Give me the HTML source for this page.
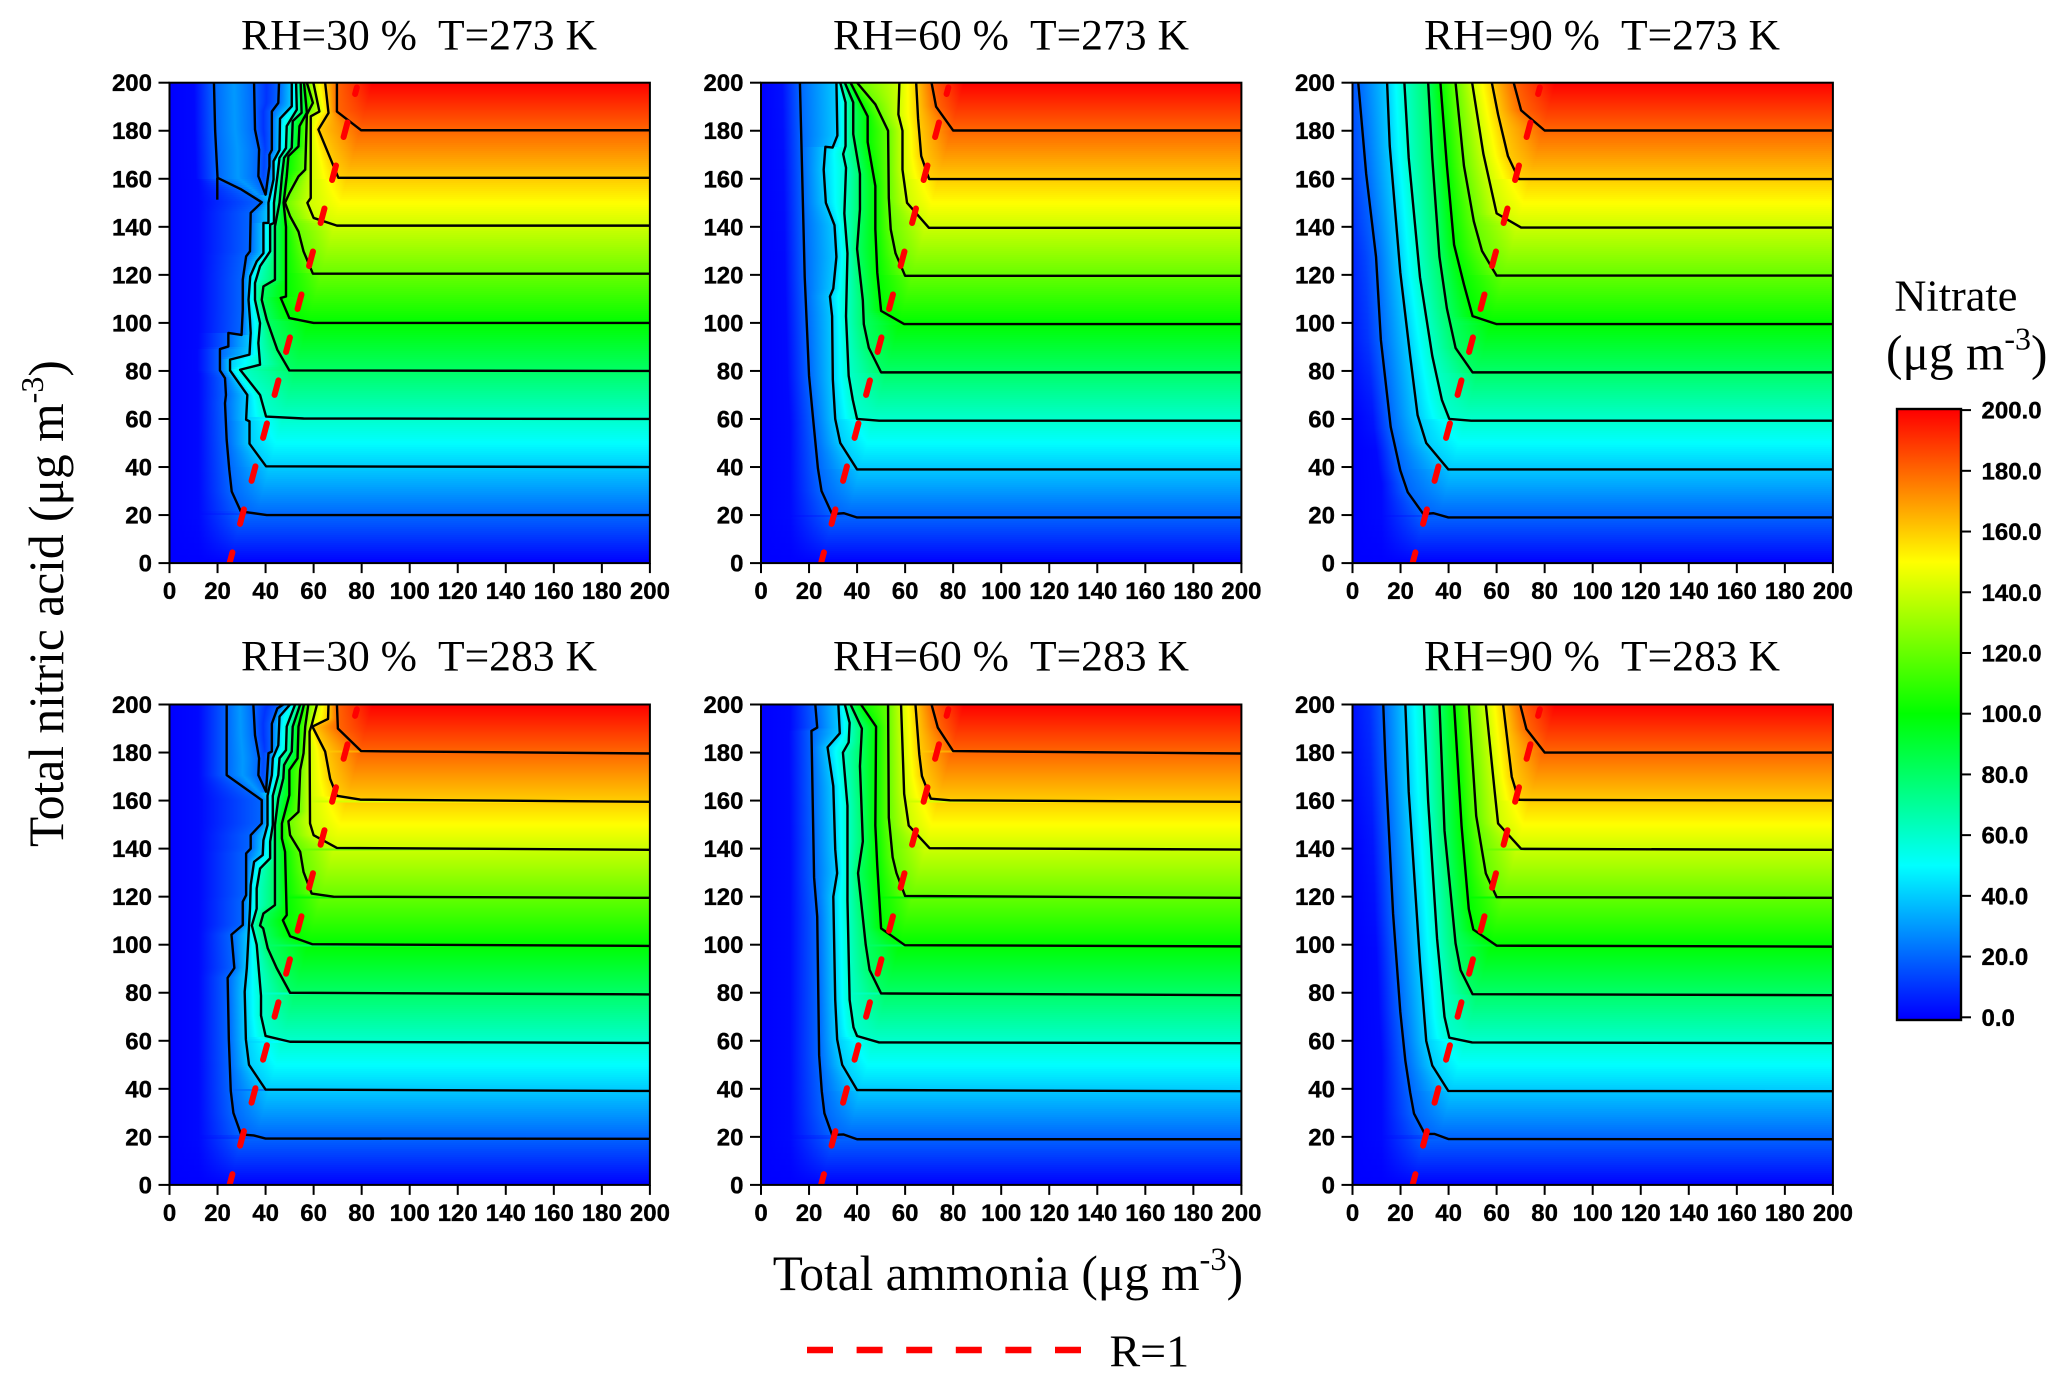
<!DOCTYPE html>
<html lang="en">
<head>
<meta charset="utf-8">
<title>Nitrate contour panels</title>
<style>
html,body{margin:0;padding:0;background:#fff;}
svg{display:block;}
.serif{font-family:"Liberation Serif",serif;fill:#000;white-space:pre;}
.tick{font-family:"Liberation Sans",sans-serif;font-weight:bold;font-size:24px;fill:#000;stroke:#000;stroke-width:0.35px;}
</style>
</head>
<body>
<svg id="chart" xmlns="http://www.w3.org/2000/svg" width="2067" height="1387" viewBox="0 0 2067 1387">
  <defs id="defs"></defs>
  <rect x="0" y="0" width="2067" height="1387" fill="#fff"></rect>
  <g id="panels"></g>

  <text class="serif" x="241" y="49.4" font-size="43.6">RH=30 %  T=273 K</text>
  <text class="serif" x="833" y="49.4" font-size="43.6">RH=60 %  T=273 K</text>
  <text class="serif" x="1424" y="49.4" font-size="43.6">RH=90 %  T=273 K</text>
  <text class="serif" x="241" y="670.6" font-size="43.6">RH=30 %  T=283 K</text>
  <text class="serif" x="833" y="670.6" font-size="43.6">RH=60 %  T=283 K</text>
  <text class="serif" x="1424" y="670.6" font-size="43.6">RH=90 %  T=283 K</text>

  <text class="serif" transform="translate(63 847) rotate(-90)" x="0" y="0" font-size="49.5">Total nitric acid (μg m<tspan dy="-20" font-size="32">-3</tspan><tspan dy="20">)</tspan></text>
  <text class="serif" x="772.7" y="1290" font-size="49.3">Total ammonia (μg m<tspan dy="-20" font-size="32.5">-3</tspan><tspan dy="20">)</tspan></text>

  <line x1="807" y1="1350" x2="1081" y2="1350" stroke="#ff0000" stroke-width="6.5" stroke-dasharray="26 23.6"></line>
  <text class="serif" x="1109.5" y="1366.7" font-size="46">R=1</text>

  <text class="serif" x="1894.4" y="310.4" font-size="44.3">Nitrate</text>
  <text class="serif" x="1886" y="369.7" font-size="49.4">(μg m<tspan dy="-20" font-size="32">-3</tspan><tspan dy="20">)</tspan></text>
  <g id="colorbar"></g>
</svg>

<script>
// ---- chart data (all contour vertices in data units: [ammonia, nitric acid]) ----
const xTickValues = [0, 20, 40, 60, 80, 100, 120, 140, 160, 180, 200];
const yTickValues = [0, 20, 40, 60, 80, 100, 120, 140, 160, 180, 200];
const colorbarTicks = [0, 20, 40, 60, 80, 100, 120, 140, 160, 180, 200];
const colorKnots = [0, 50, 100, 150, 200];
const colorKnotRGB = [[0, 0, 255], [0, 255, 255], [0, 255, 0], [255, 255, 0], [255, 0, 0]];
const rOneLine = [[25, 0], [78, 198]];

const contoursRh30T273 = [
  [20, [[18.5,200],[19,180],[20,160.4],[30,155.5],[38.4,150.2],[33.8,145.8],[33.5,129.8],[31.9,127.7],[30.5,118],[30.5,105.5],[30,95],[24.5,95.8],[24.5,90.2],[21,89.1],[21,80.2],[23.1,77],[23.5,70],[23.1,66.6],[23.8,51.3],[24.9,38.8],[25.9,29.8],[29.7,21.5],[33.5,21],[40.5,20],[200,20]]],
  [20, [[35.2,200],[35.6,180.5],[37.3,172.2],[37,161.1],[40,153.4],[41.6,165.2],[41.6,170],[42.6,172],[42.6,188],[45.3,191.6],[45.6,200]]],
  [40, [[50.9,200],[50.9,190.2],[46,185],[45.8,172],[43.3,167.3],[43.3,159.7],[41.2,150],[41.2,141.6],[39.1,141.6],[39.1,129],[36.3,125.6],[33.6,119.4],[32.9,109.6],[33.5,101.3],[33.8,95.8],[33.3,86.8],[25.2,84.7],[25.2,80.2],[32.4,70],[31.9,59.7],[33.3,59],[33.3,49.7],[40.2,40.3],[200,40]]],
  [60, [[52.7,200],[53,188.8],[48.8,181.9],[48.5,172.8],[45.8,168.7],[44.9,161],[43.5,150],[43.5,141.6],[41.9,140.9],[41.9,129.8],[37.7,123.6],[35.6,116.6],[35.6,109.6],[37.7,99.9],[37,91.6],[37.7,82.6],[29.4,80.5],[37.7,70],[40.2,61],[55.8,60.2],[200,60]]],
  [80, [[54.6,200],[55,187.5],[51.3,184],[50.9,172.9],[47.7,168.7],[46.8,161],[45.8,150],[43.9,140.2],[43.9,118],[39.1,115.2],[38.4,109.6],[40.5,101.3],[43.9,91.6],[44.9,88.8],[49.9,80.2],[200,80]]],
  [100, [[56,200],[57.2,187.5],[54.1,181.9],[53.7,173.5],[49.5,169.4],[48.8,161],[47.5,150],[48.5,140],[48.5,111],[46.3,110.4],[49.9,102],[60,100],[200,100]]],
  [120, [[57.2,200],[59.7,191.6],[57.2,186.8],[56.5,163.8],[53.7,161],[49.9,154],[48.1,150],[50.2,144.4],[53.7,138],[55.8,129.8],[59.7,120.5],[200,120.5]]],
  [140, [[59.9,200],[62.4,188],[58.8,186],[58.8,152],[57.4,150],[60,143.7],[69.7,140.5],[200,140.5]]],
  [160, [[64.8,200],[66.2,187.4],[62,180.5],[68.9,163.8],[70.3,160.4],[200,160.4]]],
  [180, [[69.7,200],[69.7,188],[79.8,180.2],[200,180.2]]]
];
const spursRh30T273 = [[[19.9,160.4],[19.9,151.3]]];

const contoursRh60T273 = [
  [20, [[16.2,200],[18.2,119],[20,78],[21.7,60],[23.7,39.4],[25.2,30],[29.6,20.4],[34.4,20.8],[40,19],[200,19]]],
  [40, [[31.4,200],[31.8,178],[29.8,173],[26.8,173.3],[26.1,163.8],[27,150],[30.6,140.7],[31.4,127.5],[30.1,114.3],[28.7,111],[29.6,102.8],[29.9,76.4],[30.9,60],[33,50],[40,39],[200,39]]],
  [60, [[33,200],[35.2,191.8],[35.2,173.6],[34.2,170.3],[35.4,164.6],[34.7,145.6],[36,129],[35.4,102.8],[36.5,78],[38.2,68],[40,60],[49.2,59.3],[200,59.3]]],
  [80, [[34.9,200],[38.4,191.8],[38.4,178.6],[41.2,162],[41.2,147.3],[40,130.8],[42.4,109.4],[42.8,99.5],[44.9,89.6],[50,79.4],[200,79.4]]],
  [100, [[37.3,200],[44.4,186],[44.4,175.3],[47.6,157],[47.6,139],[48.4,121],[50,105],[59.6,99.5],[200,99.5]]],
  [120, [[40,200],[47.6,191],[52.9,180],[53.2,152],[54,139],[56,129],[60,119.6],[200,119.6]]],
  [140, [[57.6,200],[57.2,186.8],[58.9,180],[58.9,163.8],[60.8,150],[69.9,139.6],[200,139.6]]],
  [160, [[64.6,200],[65.4,185],[66.7,169.5],[70,159.9],[200,159.9]]],
  [180, [[71,200],[72.9,190],[80,180.1],[200,180.1]]]
];

const contoursRh90T273 = [
  [20, [[2.4,200],[5.7,162],[9.8,127.5],[11.8,93],[14.4,70],[15.9,56.7],[19.9,38.6],[23,29.5],[29.5,20.4],[33.6,20.8],[39.9,19],[200,19]]],
  [40, [[14.4,200],[15.5,173.7],[19.9,121],[24,86.3],[27.1,61.6],[30.7,50],[39.9,39],[200,39]]],
  [60, [[21.6,200],[23.4,168.7],[28.1,119],[33.2,86.3],[37.2,68],[40.3,60],[49.4,59.3],[200,59.3]]],
  [80, [[31.5,200],[33.2,168.7],[36.2,127.5],[39.3,106],[42.9,89.6],[50,79.4],[200,79.4]]],
  [100, [[36.6,200],[39.3,165.4],[42.3,132.5],[46.4,116],[50,102.8],[60,99.5],[200,99.5]]],
  [120, [[42.9,200],[46.4,165.4],[50.5,142.3],[53.9,130],[60,119.7],[200,119.7]]],
  [140, [[49.8,200],[54.5,170.3],[60,145.6],[70.2,139.7],[200,139.7]]],
  [160, [[58,200],[60.6,186.8],[64.7,169.5],[69.2,159.9],[200,159.9]]],
  [180, [[67.1,200],[70.2,188.5],[80,180.1],[200,180.1]]]
];

const contoursRh30T283 = [
  [20, [[23.8,200],[23.8,170.6],[38.4,160.2],[38.4,150.5],[33.8,145.6],[33.8,140],[31.9,138],[31.9,120.6],[30.5,117.9],[30.5,108.2],[25.8,104.2],[27,90.3],[24.2,86.2],[24.7,60.6],[25.5,39.2],[26.6,30],[29.8,21],[35,20.6],[40,19.3],[200,19.2]]],
  [20, [[34.9,200],[35.6,187.2],[37.3,177.6],[37,170.6],[40.2,163.7],[41.2,179.7],[42.6,180.4],[42.6,192],[44.9,198.4],[47.4,200]]],
  [40, [[50.2,200],[45.8,195],[45.3,183],[43,177.6],[42.6,170.6],[40.8,162],[40.8,149.8],[39.1,143.5],[38.8,137.3],[35.2,134.5],[33.8,124.8],[33.5,115],[32.9,104],[32.2,90.3],[31.3,80.4],[31.8,60.6],[33.1,50],[40,39.7],[200,39.1]]],
  [60, [[52.3,200],[48.8,190.8],[48.5,181],[45.8,177.6],[45.3,170.6],[43,162],[43,149.8],[41.9,142.9],[41.9,136],[37.7,131.7],[36.3,123.4],[36.3,115],[34.3,108],[36.3,100],[38.1,78.7],[38.1,70.5],[40,62],[50.2,59.6],[200,59.1]]],
  [80, [[54.4,200],[51.3,190.8],[50.9,180.4],[47.7,174.8],[47.4,169.3],[45.3,160.9],[43.9,149.8],[43.9,126.2],[43.9,116.5],[39.1,113],[37.7,108],[39,106.8],[40.9,98.5],[44.6,90.3],[50.2,80],[200,79.3]]],
  [100, [[56,200],[53.7,190.8],[53.3,177.6],[49.9,172.7],[49.9,162.3],[46.8,150.5],[46.8,144.2],[48.1,138.7],[48.8,112.3],[47.2,110.2],[50.2,103.5],[59.5,100.2],[200,99.5]]],
  [120, [[57.8,200],[56.5,190.8],[55.8,179.7],[54.4,172.7],[53.7,155.3],[49.5,151.4],[50.2,145.6],[54.4,138.7],[55.8,130.3],[59.2,121.3],[68.3,120],[200,119.5]]],
  [140, [[61.4,200],[59.2,191.5],[58.3,188.7],[58.5,150.5],[60,145.6],[69.7,140.3],[200,139.5]]],
  [160, [[66.2,200],[66,194],[59.5,190.8],[64.8,180.4],[66.9,169],[69.7,162],[79.4,160.4],[200,159.5]]],
  [180, [[69.7,200],[70.1,190],[79.8,180.6],[200,179.6]]]
];

const contoursRh60T283 = [
  [20, [[22.6,200],[23.4,190.4],[21,189],[22.1,128],[23.4,111.7],[24.2,54],[25.3,39],[26.4,29.8],[29.6,20.8],[34.4,21],[40,19],[200,19]]],
  [40, [[32.2,200],[32.8,188],[27.7,182.2],[30.1,166],[30.9,139.7],[31.7,129.8],[30.1,120],[30.9,77],[31.7,60.6],[33.8,50],[40,39.5],[200,39]]],
  [60, [[34.9,200],[36.9,192.4],[36.5,184.2],[34.1,180],[36,157.8],[36,118.3],[36.9,77],[38.5,65.6],[40,62],[49.2,59.3],[200,59]]],
  [80, [[37.3,200],[42,190],[41.2,174.3],[42.4,143],[40.4,129.8],[43.6,100],[45.2,89.5],[50,79.7],[200,79]]],
  [100, [[41.6,200],[47.9,190.8],[47.6,149.6],[48.4,133],[50,106.8],[59.9,99.8],[200,99.3]]],
  [120, [[52.9,200],[53.2,152.9],[54.8,136.4],[56.4,129.8],[60,120.3],[200,119.5]]],
  [140, [[58.3,200],[59.6,162.8],[61.5,149.6],[70.2,140.2],[200,139.6]]],
  [160, [[64.3,200],[65.9,179.2],[67,170.2],[70.7,160.8],[78.7,160.1],[200,159.5]]],
  [180, [[71,200],[73.6,190.4],[80,180.6],[200,179.6]]]
];

const contoursRh90T283 = [
  [20, [[12.8,200],[13.8,174],[16.9,112.8],[19.9,72],[22,51.7],[24,38.5],[25.6,29.7],[30.1,21.2],[34.2,21.2],[39.9,19.1],[200,19]]],
  [40, [[22,200],[23.4,163.7],[28.1,92.5],[30.7,59.9],[33.2,49.7],[39.9,39.1],[200,39]]],
  [60, [[29.7,200],[31.5,159.7],[35.2,102.6],[38.3,70],[40.3,61.3],[49.8,59.3],[200,59]]],
  [80, [[36.2,200],[38.3,147.5],[42.9,100.6],[45,89.4],[50,79.4],[200,79]]],
  [100, [[42.3,200],[45.4,149.5],[48.4,114.9],[50.3,106.3],[60,99.6],[200,99.2]]],
  [120, [[48.4,200],[51.5,153.6],[55.5,129.7],[60,119.8],[200,119.5]]],
  [140, [[55.5,200],[59.2,163.7],[60.6,150.5],[70.2,139.9],[200,139.5]]],
  [160, [[62.7,200],[66.3,169.9],[69.2,160.3],[200,160]]],
  [180, [[69.8,200],[72.4,189.8],[80,180],[200,180]]]
];

const panelKeys = ['rh30-t273', 'rh60-t273', 'rh90-t273', 'rh30-t283', 'rh60-t283', 'rh90-t283'];
const panelContours = [contoursRh30T273, contoursRh60T273, contoursRh90T273, contoursRh30T283, contoursRh60T283, contoursRh90T283];
const panelSpurs = [spursRh30T273, [], [], [], [], []];

// ---- layout and axis functions ----
const NS = 'http://www.w3.org/2000/svg';
const PLOT_SIZE = 480.4;
const DOMAIN_MAX = 200;
function plotLeft(col) { return 169.5 + col * 591.5; }
function plotTop(row) { return 82.7 + row * 621.8; }
function xScale(col, v) { return plotLeft(col) + v / DOMAIN_MAX * PLOT_SIZE; }
function yScale(row, v) { return plotTop(row) + PLOT_SIZE - v / DOMAIN_MAX * PLOT_SIZE; }
function cbScale(v) { return 1017.3 - v * 3.036; }

function mk(tag, attrs, parent) {
  const node = document.createElementNS(NS, tag);
  for (const k in attrs) node.setAttribute(k, attrs[k]);
  if (parent) parent.appendChild(node);
  return node;
}

function colorOf(v) {
  const last = colorKnots.length - 1;
  const c = Math.max(colorKnots[0], Math.min(colorKnots[last], v));
  let i = 0;
  while (i < last - 1 && c > colorKnots[i + 1]) i++;
  const t = (c - colorKnots[i]) / (colorKnots[i + 1] - colorKnots[i]);
  const a = colorKnotRGB[i], b = colorKnotRGB[i + 1];
  return 'rgb(' + a.map(function (q, j) { return Math.round(q + (b[j] - q) * t); }).join(',') + ')';
}

function rLineX(y) {
  const a = rOneLine[0], b = rOneLine[1];
  return a[0] + (y - a[1]) * (b[0] - a[0]) / (b[1] - a[1]);
}

// where the contours cut a horizontal row of the field
function rowCrossings(lines, y) {
  const out = [];
  lines.forEach(function (line) {
    const pts = line[1];
    for (let i = 0; i < pts.length - 1; i++) {
      const p = pts[i], q = pts[i + 1];
      if ((p[1] <= y && q[1] > y) || (q[1] <= y && p[1] > y)) {
        out.push([p[0] + (y - p[1]) * (q[0] - p[0]) / (q[1] - p[1]), line[0]]);
      }
    }
  });
  out.sort(function (a, b) { return a[0] - b[0]; });
  return out;
}

// field values along one row, interpolated between the contour crossings
function rowNodes(lines, y) {
  const cr = rowCrossings(lines, y);
  const lastX = cr.length ? cr[cr.length - 1][0] : 0;
  const xp = cr.length ? Math.max(rLineX(y) + 6, lastX + 2) : rLineX(y);
  const firstX = cr.length ? cr[0][0] : xp;
  const firstV = cr.length ? cr[0][1] : y;
  const v0 = cr.length ? Math.max(0, firstV - 1.3 * firstX) : 0;
  const nodes = [[0, v0]];
  // blend between a straight ramp and a flat dark strip along the left edge
  const flatX = Math.min(0.55 * firstX, 12);
  const straight = v0 + (firstV - v0) * flatX / firstX;
  const flat = v0 + 0.08 * firstV;
  const w = Math.max(0, Math.min(1, (firstX - 8) / 10));
  nodes.push([flatX, straight * (1 - w) + flat * w]);
  let dir = 1;
  cr.forEach(function (c, i) {
    nodes.push([c[0], c[1]]);
    const n = cr[i + 1];
    if (n && n[1] === c[1]) {
      const gap = n[0] - c[0];
      nodes.push([(c[0] + n[0]) / 2, c[1] + dir * Math.min(10, gap * 1.5)]);
      dir = -dir;
    } else {
      dir = 1;
    }
  });
  nodes.push([xp, y]);
  nodes.push([DOMAIN_MAX, y]);
  return nodes;
}

const defs = document.getElementById('defs');
const panelsRoot = document.getElementById('panels');

function drawPanel(index) {
  const col = index % 3, row = Math.floor(index / 3);
  const key = panelKeys[index];
  const lines = panelContours[index];
  const left = plotLeft(col), top = plotTop(row);

  const g = mk('g', {}, panelsRoot);
  
  

  const clip = mk('clipPath', { id: 'clip' + index }, defs);
  mk('rect', { x: left, y: top, width: PLOT_SIZE, height: PLOT_SIZE }, clip);

  const heat = mk('g', {}, g);
  
  

  const rows = 240, rowH = PLOT_SIZE / rows;
  for (let r = 0; r < rows; r++) {
    const y = DOMAIN_MAX - (r + 0.5) * DOMAIN_MAX / rows;
    const nodes = rowNodes(lines, y);
    const grad = mk('linearGradient', { id: 'g' + index + '_' + r, x1: 0, x2: 1, y1: 0, y2: 0 }, defs);
    for (let i = 0; i < nodes.length; i++) {
      const a = nodes[i];
      mk('stop', { offset: a[0] / DOMAIN_MAX, 'stop-color': colorOf(a[1]) }, grad);
      const b = nodes[i + 1];
      if (!b) continue;
      const knots = colorKnots.slice(1, -1).filter(function (k) { return (a[1] - k) * (b[1] - k) < 0; });
      if (b[1] < a[1]) knots.reverse();
      knots.forEach(function (k) {
        const x = a[0] + (k - a[1]) * (b[0] - a[0]) / (b[1] - a[1]);
        mk('stop', { offset: x / DOMAIN_MAX, 'stop-color': colorOf(k) }, grad);
      });
    }
    const cell = mk('rect', { x: left, y: top + r * rowH, width: PLOT_SIZE, height: rowH + 0.6, fill: 'url(#g' + index + '_' + r + ')', 'shape-rendering': 'crispEdges' }, heat);
    
    
  }

  const contourGroup = mk('g', { 'clip-path': 'url(#clip' + index + ')', fill: 'none', stroke: '#000', 'stroke-width': 2.4, 'stroke-linejoin': 'round' }, g);
  
  

  function pathOf(pts) {
    return pts.map(function (p, i) {
      return (i ? 'L' : 'M') + xScale(col, p[0]).toFixed(2) + ' ' + yScale(row, p[1]).toFixed(2);
    }).join(' ');
  }

  lines.forEach(function (line) {
    const path = mk('path', { d: pathOf(line[1]) }, contourGroup);
    
    
  });
  panelSpurs[index].forEach(function (pts) {
    const spur = mk('path', { d: pathOf(pts) }, contourGroup);
    
    
  });

  const rLine = mk('line', {
    x1: xScale(col, rOneLine[0][0]), y1: yScale(row, rOneLine[0][1]),
    x2: xScale(col, rOneLine[1][0]), y2: yScale(row, rOneLine[1][1]),
    stroke: '#ff0000', 'stroke-width': 6, 'stroke-linecap': 'round',
    'stroke-dasharray': '15 29.5', 'stroke-dashoffset': 3.9,
    'clip-path': 'url(#clip' + index + ')'
  }, g);
  
  

  const frame = mk('rect', { x: left, y: top, width: PLOT_SIZE, height: PLOT_SIZE, fill: 'none', stroke: '#000', 'stroke-width': 2 }, g);
  
  

  xTickValues.forEach(function (v) {
    const x = xScale(col, v), base = top + PLOT_SIZE;
    const t = mk('line', { x1: x, x2: x, y1: base, y2: base + 10, stroke: '#000', 'stroke-width': 2 }, g);
    
    
    const label = mk('text', { class: 'tick', x: x, y: base + 36, 'text-anchor': 'middle' }, g);
    
    
    label.textContent = String(v);
  });
  yTickValues.forEach(function (v) {
    const y = yScale(row, v);
    const t = mk('line', { x1: left - 11, x2: left, y1: y, y2: y, stroke: '#000', 'stroke-width': 2 }, g);
    
    
    const label = mk('text', { class: 'tick', x: left - 17.5, y: y + 8.5, 'text-anchor': 'end' }, g);
    
    
    label.textContent = String(v);
  });
}

function drawColorbar() {
  const root = document.getElementById('colorbar');
  const x0 = 1897, x1 = 1961, y0 = 409, y1 = 1020;
  const grad = mk('linearGradient', { id: 'cbGrad', gradientUnits: 'userSpaceOnUse', x1: 0, x2: 0, y1: cbScale(0), y2: cbScale(200) }, defs);
  colorKnots.forEach(function (k) {
    mk('stop', { offset: k / 200, 'stop-color': colorOf(k) }, grad);
  });
  const bar = mk('rect', { x: x0, y: y0, width: x1 - x0, height: y1 - y0, fill: 'url(#cbGrad)', stroke: '#000', 'stroke-width': 2.4 }, root);
  
  
  colorbarTicks.forEach(function (v) {
    const y = cbScale(v);
    const t = mk('line', { x1: x1, x2: x1 + 10, y1: y, y2: y, stroke: '#000', 'stroke-width': 2 }, root);
    
    
    const label = mk('text', { class: 'tick', x: 1981.5, y: y + 8.5 }, root);
    
    
    label.textContent = v.toFixed(1);
  });
}

panelKeys.forEach(function (k, i) { drawPanel(i); });
drawColorbar();
</script>
</body>
</html>
